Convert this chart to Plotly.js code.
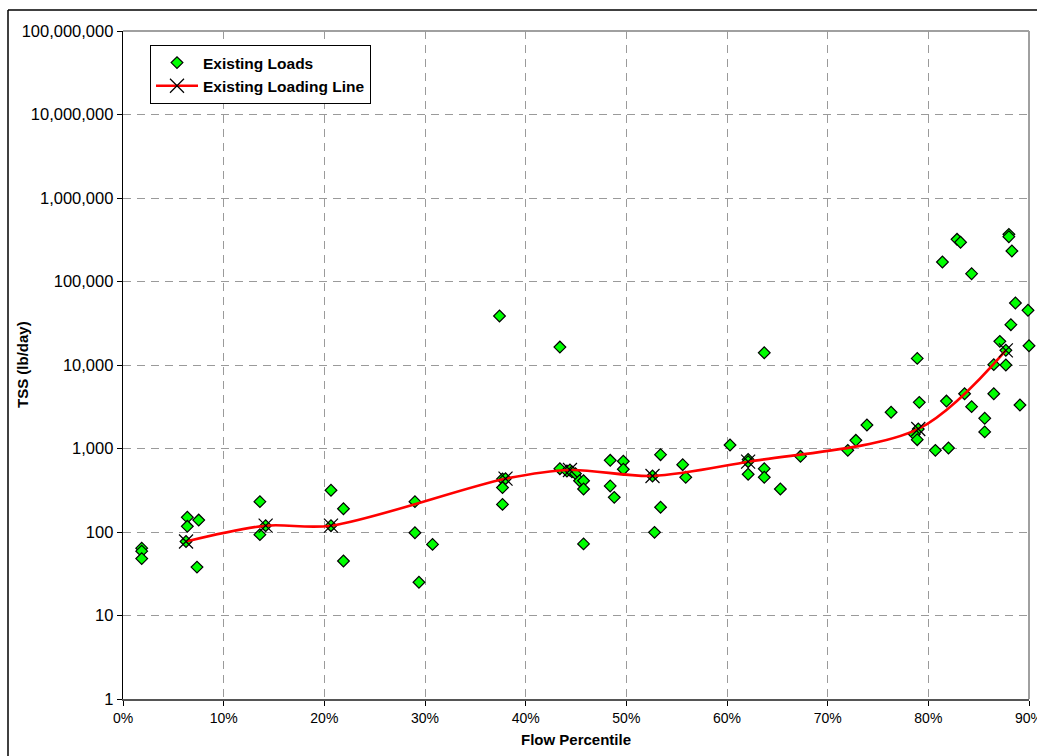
<!DOCTYPE html>
<html>
<head>
<meta charset="utf-8">
<script src="https://cdn.plot.ly/plotly-3.0.1.min.js"></script>
<style>
html,body{margin:0;padding:0;background:#fff;}
#chart{width:1037px;height:756px;}
</style>
</head>
<body>
<div id="chart"></div>
<script>
// ---- data ----
const loadPct = [
  1.86, 1.86, 1.86, 6.39, 6.39, 7.52, 7.35, 6.26,
  13.6, 13.6, 14.17, 20.66, 21.9, 20.66, 21.9,
  29.0, 29.0, 30.75, 29.4,
  37.4, 37.7, 38.0, 37.7, 37.7,
  43.4, 43.4, 44.1, 44.4, 44.6, 44.95, 45.35, 45.75, 45.75, 45.75,
  48.4, 48.4, 48.8, 49.7, 49.7,
  52.6, 53.4, 53.4, 52.8, 55.6, 55.9,
  60.3, 62.1, 62.1, 62.1, 63.7, 63.7, 63.7, 65.3, 67.3,
  72.0, 72.8, 73.9, 76.3, 78.9, 79.1, 79.0, 78.6, 78.9,
  80.7, 82.0, 81.8, 83.6, 84.3, 85.6, 85.6, 86.5, 86.5,
  87.1, 87.7, 87.7, 88.2, 88.65, 89.9, 90.0, 89.1,
  81.4, 82.85, 83.2, 84.3, 88.0, 88.0, 88.3
];
const loadTSS = [
  64, 59, 48, 150, 117, 139, 38, 77,
  231, 93, 119, 316, 190, 119, 45,
  231, 98, 71, 25,
  38600, 431, 435, 340, 214,
  16400, 573, 537, 553, 525, 500, 411, 411, 327, 72,
  722, 356, 260, 703, 564,
  469, 843, 198, 99, 640, 452,
  1100, 740, 695, 491, 14000, 573, 452, 327, 806,
  950, 1253, 1910, 2720, 12000, 3570, 1714, 1480, 1275,
  950, 1013, 3700, 4530, 3170, 2300, 1580, 4530, 10100,
  19200, 15000, 10000, 30400, 55300, 45200, 17000, 3320,
  171000, 320000, 295000, 124000, 367000, 344000, 232000
];
const linePct = [6.26, 14.17, 20.66, 38.0, 44.4, 52.6, 62.1, 79.0, 87.7];
const lineTSS = [77, 119, 119, 435, 553, 469, 695, 1714, 15000];

const xTickVals = [0, 10, 20, 30, 40, 50, 60, 70, 80, 90];
const xTickText = ["0%", "10%", "20%", "30%", "40%", "50%", "60%", "70%", "80%", "90%"];
const yTickVals = [1, 10, 100, 1000, 10000, 100000, 1000000, 10000000, 100000000];
const yTickText = ["1", "10", "100", "1,000", "10,000", "100,000", "1,000,000", "10,000,000", "100,000,000"];

const seriesNames = ["Existing Loads", "Existing Loading Line"];
const xTitle = "Flow Percentile";
const yTitle = "TSS (lb/day)";

// ---- layout geometry (pixels) ----
const W = 1037, H = 756;
const M = {l: 123, r: 8, t: 31, b: 57};
const pw = W - M.l - M.r, ph = H - M.t - M.b;
const px2x = p => (p - M.l) / pw;
const py2y = p => (H - M.b - p) / ph;

const FONT = "'Liberation Sans', Arial, sans-serif";

const traces = [
  {
    type: "scatter", mode: "markers", name: seriesNames[0],
    x: loadPct, y: loadTSS, cliponaxis: false,
    marker: {symbol: "diamond", size: 9, color: "#00ff00", line: {color: "#000000", width: 1.2}}
  },
  {
    type: "scatter", mode: "lines+markers", name: seriesNames[1],
    x: linePct, y: lineTSS, cliponaxis: false,
    line: {color: "#ff0000", width: 2.6, shape: "spline", smoothing: 0.9},
    marker: {symbol: "x-thin-open", size: 14, color: "#000000", line: {color: "#000000", width: 1.2}}
  }
];

const layout = {
  width: W, height: H,
  margin: M,
  paper_bgcolor: "#ffffff", plot_bgcolor: "#ffffff",
  font: {family: FONT, color: "#000000", size: 15},
  showlegend: true,
  legend: {
    x: px2x(150), y: py2y(45), xanchor: "left", yanchor: "top",
    bgcolor: "#ffffff", bordercolor: "#000000", borderwidth: 1,
    font: {family: FONT, size: 15.5, color: "#000000", weight: "bold"},
    tracegroupgap: 0, itemwidth: 42
  },
  xaxis: {
    range: [0, 90], tickmode: "array", tickvals: xTickVals, ticktext: xTickText,
    ticklabeloverflow: "allow",
    showgrid: true, gridcolor: "#9a9a9a", griddash: "8px,6px", gridwidth: 1,
    zeroline: false, showline: true, linecolor: "#555555", linewidth: 2,
    ticks: "outside", ticklen: 5, tickcolor: "#000000",
    tickfont: {family: FONT, size: 14, color: "#000000"},
    title: {text: xTitle, font: {family: FONT, size: 15, color: "#000000", weight: "bold"}, standoff: 10},
    automargin: false
  },
  yaxis: {
    type: "log", range: [0, 8], tickmode: "array", tickvals: yTickVals, ticktext: yTickText,
    showgrid: true, gridcolor: "#9a9a9a", griddash: "8px,6px", gridwidth: 1,
    zeroline: false, showline: true, linecolor: "#000000", linewidth: 1.3,
    ticks: "outside", ticklen: 5, tickcolor: "#000000",
    tickfont: {family: FONT, size: 16.5, color: "#000000"},
    automargin: false
  },
  annotations: [
    {text: "<b>" + yTitle + "</b>", xref: "paper", yref: "paper", x: px2x(22), y: py2y(365),
     textangle: -90, showarrow: false, xanchor: "center", yanchor: "middle",
     font: {family: FONT, size: 15, color: "#000000"}}
  ],
  shapes: [
    // plot-area grey border (top and right)
    {type: "line", xref: "paper", yref: "paper", x0: 0, x1: 1, y0: 1, y1: 1, line: {color: "#a0a0a0", width: 2}, layer: "below"},
    {type: "line", xref: "paper", yref: "paper", x0: 1, x1: 1, y0: 0, y1: 1, line: {color: "#a0a0a0", width: 2}, layer: "below"},
    // outer chart frame (cropped)
    {type: "line", xref: "paper", yref: "paper", x0: px2x(8), x1: px2x(8), y0: py2y(760), y1: py2y(10), line: {color: "#000000", width: 1.5}},
    {type: "line", xref: "paper", yref: "paper", x0: px2x(8), x1: px2x(1045), y0: py2y(10), y1: py2y(10), line: {color: "#000000", width: 1.5}}
  ]
};

Plotly.newPlot("chart", traces, layout, {displayModeBar: false, staticPlot: true});
</script>
</body>
</html>
